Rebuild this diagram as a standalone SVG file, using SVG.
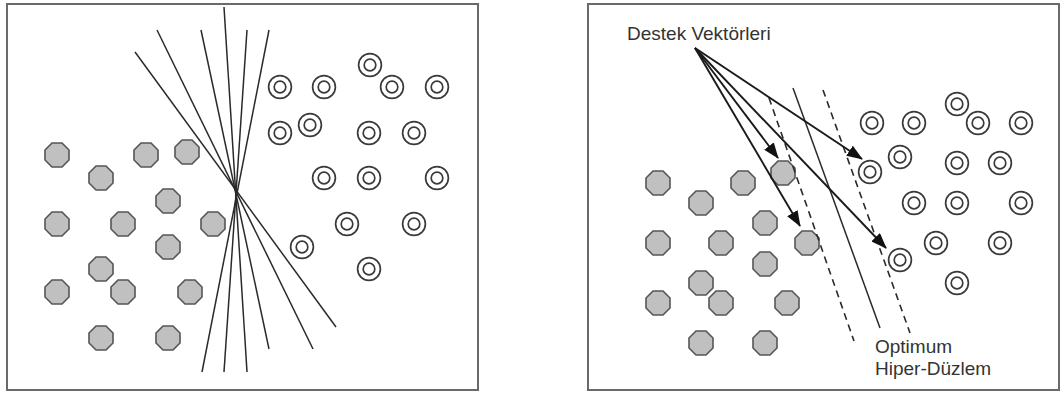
<svg xmlns="http://www.w3.org/2000/svg" xmlns:xlink="http://www.w3.org/1999/xlink" width="1062" height="394" viewBox="0 0 1062 394">
<style>
.frame{fill:#fff;stroke:#6a6a6a;stroke-width:2}
.oct{fill:#c0c0c0;stroke:#555;stroke-width:1.6}
.ring{fill:none;stroke:#3a3a3a;stroke-width:1.7}
.ln{stroke:#2a2a2a;stroke-width:1.5;fill:none}
.dash{stroke:#2a2a2a;stroke-width:1.6;fill:none;stroke-dasharray:7 5}
.arr{stroke:#1a1a1a;stroke-width:1.9;fill:none;marker-end:url(#ah)}
.lbl{font-family:"Liberation Sans",Arial,sans-serif;font-size:19px;fill:#333}
</style>
<defs>
<path id="oct" d="M-5,-12 L5,-12 L12,-5 L12,5 L5,12 L-5,12 L-12,5 L-12,-5 Z"/>
<g id="dc"><circle r="11.4"/><circle r="5.8"/></g>
<marker id="ah" markerUnits="userSpaceOnUse" markerWidth="16" markerHeight="12" viewBox="0 0 16 12" refX="15" refY="6" orient="auto">
<path d="M0,0 L16,6 L0,12 Z" fill="#111"/>
</marker>
</defs>
<rect id="panel-left" class="frame" x="7" y="4" width="471" height="386"/>
<rect id="panel-right" class="frame" x="588" y="4" width="471" height="386"/>

<g id="left-lines">
<line class="ln" x1="135" y1="52" x2="336" y2="327"/>
<line class="ln" x1="157" y1="30" x2="313" y2="349"/>
<line class="ln" x1="201" y1="30" x2="269" y2="349"/>
<line class="ln" x1="224" y1="7" x2="247" y2="372"/>
<line class="ln" x1="247" y1="30" x2="224" y2="372"/>
<line class="ln" x1="269" y1="30" x2="202" y2="372"/>
</g>

<g id="left-class-a" class="oct">
<g id="la1"><use xlink:href="#oct" x="57" y="155"/></g>
<g id="la2"><use xlink:href="#oct" x="146" y="155"/></g>
<g id="la3"><use xlink:href="#oct" x="187" y="152"/></g>
<g id="la4"><use xlink:href="#oct" x="101" y="178"/></g>
<g id="la5"><use xlink:href="#oct" x="168" y="201"/></g>
<g id="la6"><use xlink:href="#oct" x="57" y="224"/></g>
<g id="la7"><use xlink:href="#oct" x="123" y="224"/></g>
<g id="la8"><use xlink:href="#oct" x="213" y="224"/></g>
<g id="la9"><use xlink:href="#oct" x="168" y="247"/></g>
<g id="la10"><use xlink:href="#oct" x="101" y="269"/></g>
<g id="la11"><use xlink:href="#oct" x="57" y="292"/></g>
<g id="la12"><use xlink:href="#oct" x="123" y="292"/></g>
<g id="la13"><use xlink:href="#oct" x="190" y="292"/></g>
<g id="la14"><use xlink:href="#oct" x="101" y="338"/></g>
<g id="la15"><use xlink:href="#oct" x="168" y="338"/></g>
</g>

<g id="left-class-b" class="ring">
<g id="lb1"><use xlink:href="#dc" x="370" y="65"/></g>
<g id="lb2"><use xlink:href="#dc" x="280" y="87"/></g>
<g id="lb3"><use xlink:href="#dc" x="324" y="87"/></g>
<g id="lb4"><use xlink:href="#dc" x="392" y="87"/></g>
<g id="lb5"><use xlink:href="#dc" x="437" y="87"/></g>
<g id="lb6"><use xlink:href="#dc" x="280" y="133"/></g>
<g id="lb7"><use xlink:href="#dc" x="310" y="125"/></g>
<g id="lb8"><use xlink:href="#dc" x="369" y="133"/></g>
<g id="lb9"><use xlink:href="#dc" x="414" y="133"/></g>
<g id="lb10"><use xlink:href="#dc" x="324" y="178"/></g>
<g id="lb11"><use xlink:href="#dc" x="369" y="178"/></g>
<g id="lb12"><use xlink:href="#dc" x="437" y="178"/></g>
<g id="lb13"><use xlink:href="#dc" x="347" y="224"/></g>
<g id="lb14"><use xlink:href="#dc" x="414" y="224"/></g>
<g id="lb15"><use xlink:href="#dc" x="302" y="247"/></g>
<g id="lb16"><use xlink:href="#dc" x="369" y="269"/></g>
</g>

<g id="right-class-a" class="oct">
<g id="ra1"><use xlink:href="#oct" x="658" y="183"/></g>
<g id="ra2"><use xlink:href="#oct" x="743" y="183"/></g>
<g id="ra3"><use xlink:href="#oct" x="783" y="173"/></g>
<g id="ra4"><use xlink:href="#oct" x="701" y="203"/></g>
<g id="ra5"><use xlink:href="#oct" x="765" y="223"/></g>
<g id="ra6"><use xlink:href="#oct" x="658" y="243"/></g>
<g id="ra7"><use xlink:href="#oct" x="721" y="243"/></g>
<g id="ra8"><use xlink:href="#oct" x="807" y="243"/></g>
<g id="ra9"><use xlink:href="#oct" x="765" y="264"/></g>
<g id="ra10"><use xlink:href="#oct" x="701" y="283"/></g>
<g id="ra11"><use xlink:href="#oct" x="658" y="303"/></g>
<g id="ra12"><use xlink:href="#oct" x="721" y="303"/></g>
<g id="ra13"><use xlink:href="#oct" x="787" y="303"/></g>
<g id="ra14"><use xlink:href="#oct" x="701" y="343"/></g>
<g id="ra15"><use xlink:href="#oct" x="765" y="343"/></g>
</g>

<g id="right-class-b" class="ring">
<g id="rb1"><use xlink:href="#dc" x="957" y="104"/></g>
<g id="rb2"><use xlink:href="#dc" x="872" y="123"/></g>
<g id="rb3"><use xlink:href="#dc" x="914" y="123"/></g>
<g id="rb4"><use xlink:href="#dc" x="978" y="123"/></g>
<g id="rb5"><use xlink:href="#dc" x="1021" y="123"/></g>
<g id="rb6"><use xlink:href="#dc" x="900" y="157"/></g>
<g id="rb7"><use xlink:href="#dc" x="870" y="172"/></g>
<g id="rb8"><use xlink:href="#dc" x="957" y="163"/></g>
<g id="rb9"><use xlink:href="#dc" x="1000" y="163"/></g>
<g id="rb10"><use xlink:href="#dc" x="914" y="203"/></g>
<g id="rb11"><use xlink:href="#dc" x="957" y="203"/></g>
<g id="rb12"><use xlink:href="#dc" x="1021" y="203"/></g>
<g id="rb13"><use xlink:href="#dc" x="936" y="243"/></g>
<g id="rb14"><use xlink:href="#dc" x="1000" y="243"/></g>
<g id="rb15"><use xlink:href="#dc" x="900" y="260"/></g>
<g id="rb16"><use xlink:href="#dc" x="957" y="283"/></g>
</g>

<g id="hyperplanes">
<line class="ln" x1="793" y1="88" x2="880" y2="328"/>
<line class="dash" x1="769" y1="98" x2="854" y2="341"/>
<line class="dash" x1="823" y1="90" x2="910" y2="333"/>
</g>

<g id="connectors">
<line class="arr" x1="695" y1="48" x2="862" y2="159"/>
<line class="arr" x1="695" y1="48" x2="778" y2="158"/>
<line class="arr" x1="695" y1="48" x2="800" y2="226"/>
<line class="arr" x1="695" y1="48" x2="886" y2="248"/>
</g>

<g id="label-support">
<text class="lbl" x="627" y="40">Destek Vektörleri</text>
</g>
<g id="label-hyperplane">
<text class="lbl" x="875" y="353">Optimum</text>
<text class="lbl" x="875" y="375">Hiper-Düzlem</text>
</g>
</svg>
